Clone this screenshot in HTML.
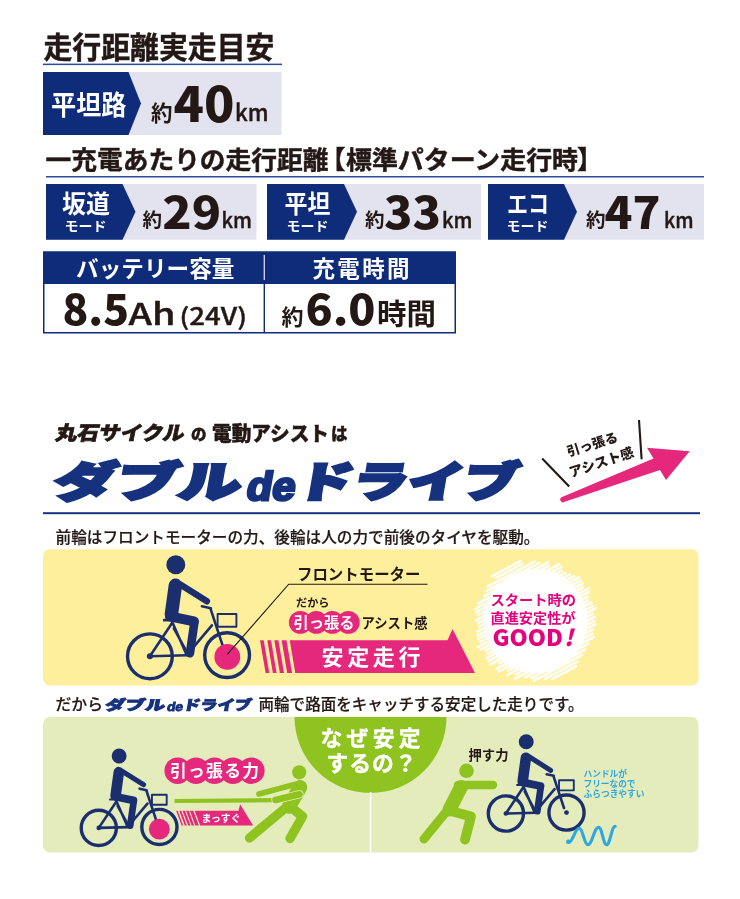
<!DOCTYPE html>
<html lang="ja">
<head>
<meta charset="utf-8">
<title>走行距離実走目安</title>
<style>
html,body{margin:0;padding:0;background:#fff;}
body{width:740px;height:899px;overflow:hidden;}
svg{display:block;}
text{font-family:"Liberation Sans","Noto Sans CJK JP",sans-serif;fill:#231815;}
.jp{font-family:"Noto Sans CJK JP","Liberation Sans",sans-serif;}
.b{font-weight:700;}
.t{stroke:#231815;stroke-width:0.45px;}
.m{font-weight:500;}
.k{font-weight:900;}
.w{fill:#fff;}
.km{stroke:#231815;stroke-width:0.4px;}
.cp{stroke:#231815;stroke-width:0.2px;}
.navy{fill:#0f2c7a;}
.pk{fill:#e5287c;}
</style>
</head>
<body>
<svg width="740" height="899" viewBox="0 0 740 899">
<defs>
  <!-- bicycle with rider; origin = rear hub, drawn at bike-1 scale -->
  <g id="bike">
    <g fill="none" stroke="#1b2f6e" stroke-linecap="round" stroke-linejoin="round">
      <circle cx="0" cy="0" r="22.400" stroke-width="3.400" vector-effect="non-scaling-stroke"/>
      <circle cx="77.200" cy="-1.200" r="22.400" stroke-width="3.400" vector-effect="non-scaling-stroke"/>
      <path d="M0 0 L38 -1 M0 0 L22 -33 M22 -35 L36 -3 M40 -5 L62 -31 M24 -28 L36 -6 M60.5 -48 L74 -7 M52 -50 L61 -48" stroke-width="2.600" vector-effect="non-scaling-stroke"/>
      <rect x="67.700" y="-42.300" width="18.800" height="12.800" stroke-width="1.900" vector-effect="non-scaling-stroke"/>
    </g>
    <g fill="#1b2f6e">
      <circle cx="0" cy="0" r="3"/><circle cx="77.200" cy="-1.200" r="3"/>
      <circle cx="25.9" cy="-91.5" r="9.5"/>
      <rect x="13" y="-37.5" width="9" height="2.6" rx="1"/>
    </g>
    <g fill="none" stroke="#1b2f6e" stroke-linecap="round" stroke-linejoin="round">
      <path d="M25.5 -71 L21.5 -42" stroke-width="13.5"/>
      <path d="M30 -72 L57 -55" stroke-width="6.4"/>
      <path d="M20 -40 L44 -35" stroke-width="10"/>
      <path d="M44.5 -34 L40 -3" stroke-width="8.6"/>
    </g>
  </g>
</defs>

<rect x="0" y="0" width="740" height="899" fill="#fff"/>

<!-- ================= section 1 ================= -->
<text class="jp b t" x="43.5" y="57.8" font-size="29.6" textLength="231" lengthAdjust="spacingAndGlyphs">走行距離実走目安</text>
<rect x="43" y="63.6" width="239" height="1.5" fill="#2a4b9b"/>

<rect x="43" y="72" width="238.500" height="63" fill="#e3e3ef"/>
<path class="navy" d="M43 72H128.500L141 103.500L128.500 135H43Z"/>
<text class="jp b w" x="51" y="114.500" font-size="27.500" textLength="75.500" lengthAdjust="spacingAndGlyphs">平坦路</text>
<text class="jp b" x="151" y="121" font-size="21.5">約</text>
<text class="jp k" x="173.500" y="121.500" font-size="48" textLength="61" lengthAdjust="spacingAndGlyphs">40</text>
<text class="jp m km" x="235" y="121" font-size="23" textLength="33.500" lengthAdjust="spacingAndGlyphs">km</text>

<text class="jp b t" font-size="25.500" y="169"><tspan x="45.500" textLength="283" lengthAdjust="spacingAndGlyphs">一充電あたりの走行距離</tspan></text>
<text class="jp b t" font-size="25.500" y="169" x="320">【</text>
<text class="jp b t" font-size="25.500" y="169"><tspan x="346" textLength="232" lengthAdjust="spacingAndGlyphs">標準パターン走行時</tspan></text>
<text class="jp b t" font-size="25.500" y="169" x="577">】</text>
<rect x="46" y="176" width="658" height="1.500" fill="#2a4b9b"/>

<!-- three mode boxes -->
<g>
  <rect x="46" y="184" width="210.5" height="55.700" fill="#e3e3ef"/>
  <path class="navy" d="M46 184H122.5L135.5 211.850L122.5 239.700H46Z"/>
  <text class="jp b w" x="62" y="213" font-size="24.500" textLength="48" lengthAdjust="spacingAndGlyphs">坂道</text>
  <text class="jp b w" x="64.5" y="230.600" font-size="13.200" textLength="42" lengthAdjust="spacingAndGlyphs">モード</text>
  <text class="jp b" x="142.5" y="227.300" font-size="19.500">約</text>
  <text class="jp k" x="162.200" y="228.500" font-size="44" textLength="59" lengthAdjust="spacingAndGlyphs">29</text>
  <text class="jp m km" x="221.5" y="227.500" font-size="20.500" textLength="30.5" lengthAdjust="spacingAndGlyphs">km</text>
</g>
<g>
  <rect x="267" y="184" width="214" height="55.700" fill="#e3e3ef"/>
  <path class="navy" d="M267 184H344L357 211.850L344 239.700H267Z"/>
  <text class="jp b w" x="284.5" y="213" font-size="24.500" textLength="46" lengthAdjust="spacingAndGlyphs">平坦</text>
  <text class="jp b w" x="286.5" y="230.600" font-size="13.200" textLength="42" lengthAdjust="spacingAndGlyphs">モード</text>
  <text class="jp b" x="365" y="227.300" font-size="19.500">約</text>
  <text class="jp k" x="384" y="228.500" font-size="44" textLength="57" lengthAdjust="spacingAndGlyphs">33</text>
  <text class="jp m km" x="442" y="227.500" font-size="20.500" textLength="30.5" lengthAdjust="spacingAndGlyphs">km</text>
</g>
<g>
  <rect x="488" y="184" width="216" height="55.700" fill="#e3e3ef"/>
  <path class="navy" d="M488 184H564L577 211.850L564 239.700H488Z"/>
  <text class="jp b w" x="507" y="213" font-size="24.500" textLength="42" lengthAdjust="spacingAndGlyphs">エコ</text>
  <text class="jp b w" x="506.5" y="230.600" font-size="13.200" textLength="42" lengthAdjust="spacingAndGlyphs">モード</text>
  <text class="jp b" x="586" y="227.300" font-size="19.500">約</text>
  <text class="jp k" x="604.5" y="228.500" font-size="44" textLength="56" lengthAdjust="spacingAndGlyphs">47</text>
  <text class="jp m km" x="664" y="227.500" font-size="20.500" textLength="29.5" lengthAdjust="spacingAndGlyphs">km</text>
</g>

<!-- battery table -->
<rect x="43.750" y="252.250" width="411.500" height="80.500" fill="#fff" stroke="#0f2c7a" stroke-width="1.5"/>
<rect x="43" y="251.500" width="413" height="32.500" class="navy"/>
<rect x="263.600" y="255" width="1.400" height="25" fill="#c9cfe6"/>
<rect x="263.600" y="284" width="1.400" height="49" class="navy"/>
<text class="jp b w" x="76" y="276.500" font-size="22.500" textLength="158.500" lengthAdjust="spacingAndGlyphs">バッテリー容量</text>
<text class="jp b w" x="312.500" y="276.500" font-size="22.500" textLength="97" lengthAdjust="spacing">充電時間</text>
<text class="jp k" x="62.500" y="324.500" font-size="42" textLength="66.500" lengthAdjust="spacingAndGlyphs">8.5</text>
<text class="jp m km" x="128.500" y="324.500" font-size="30" textLength="47" lengthAdjust="spacingAndGlyphs">Ah</text>
<text class="jp m km" x="179.500" y="325" font-size="23.500" textLength="67.500" lengthAdjust="spacingAndGlyphs">(24V)</text>
<text class="jp b" x="281.500" y="324.500" font-size="22">約</text>
<text class="jp k" x="305.500" y="324.500" font-size="42" textLength="70" lengthAdjust="spacingAndGlyphs">6.0</text>
<text class="jp b" x="377" y="325" font-size="29" textLength="59" lengthAdjust="spacingAndGlyphs">時間</text>

<!-- ================= section 2 header ================= -->
<g transform="translate(54.500 439.500) skewX(-12)">
  <text class="jp k" x="0" y="0" font-size="19.500" textLength="129" lengthAdjust="spacingAndGlyphs" stroke="#231815" stroke-width="0.700">丸石サイクル</text>
</g>
<text class="jp k t" x="191" y="440.300" font-size="15.500">の</text>
<text class="jp k t" x="212" y="440.800" font-size="20" textLength="117" lengthAdjust="spacingAndGlyphs">電動アシスト</text>
<text class="jp k t" x="331" y="440" font-size="16.500">は</text>

<g transform="translate(0 497.500) skewX(-10)" style="fill:#16327f;stroke:#16327f;stroke-linejoin:miter">
  <text class="jp k" style="fill:#16327f" x="52" y="-0.500" font-size="42" textLength="187" lengthAdjust="spacingAndGlyphs" stroke-width="3">ダブル</text>
  <text class="b" style="fill:#16327f;font-family:'Liberation Sans',sans-serif" x="245.500" y="2.300" font-size="40" textLength="48.500" lengthAdjust="spacingAndGlyphs" stroke-width="2.800">de</text>
  <text class="jp k" style="fill:#16327f" x="295.500" y="-0.500" font-size="42" textLength="221" lengthAdjust="spacingAndGlyphs" stroke-width="3">ドライブ</text>
</g>
<rect x="43" y="512.200" width="657" height="2" fill="#16327f"/>

<!-- arrow top right -->
<path class="pk" d="M561.500 497.200A2.600 2.600 0 0 0 564.600 501.800L660 470L666 480L689.700 451.200L647 447.700L653.500 458.500Z"/>
<path d="M542.200 458.500L569.200 486.400M639 420L641.600 459.300" stroke="#231815" stroke-width="2.100" fill="none"/>
<g transform="translate(568.500 456.500) rotate(-17)">
  <text class="jp k" x="0" y="0" font-size="13" textLength="52.500" lengthAdjust="spacingAndGlyphs">引っ張る</text>
</g>
<g transform="translate(571 477.500) rotate(-18.500)">
  <text class="jp k" x="0" y="0" font-size="13.500" textLength="67.500" lengthAdjust="spacingAndGlyphs">アシスト感</text>
</g>

<text class="jp m cp" x="55.500" y="543.300" font-size="15.800" textLength="484" lengthAdjust="spacingAndGlyphs">前輪はフロントモーターの力、後輪は人の力で前後のタイヤを駆動。</text>

<!-- ================= yellow panel ================= -->
<rect x="43" y="549.300" width="655.500" height="136.200" rx="7" fill="#feef9c"/>
<use href="#bike" x="149.900" y="656.300"/>
<circle class="pk" cx="227.300" cy="656.900" r="12.900"/>
<path d="M227.300 654.400L288.700 584.200H427.500" stroke="#231815" stroke-width="1.100" fill="none"/>
<text class="jp b" x="297" y="579.500" font-size="15.500" textLength="123.500" lengthAdjust="spacingAndGlyphs">フロントモーター</text>
<text class="jp b" x="296" y="606.800" font-size="11" textLength="33.500" lengthAdjust="spacingAndGlyphs">だから</text>
<g class="pk">
  <circle cx="300.300" cy="622.400" r="11.400"/><circle cx="316.300" cy="622.400" r="11.400"/><circle cx="332.300" cy="622.400" r="11.400"/><circle cx="348.300" cy="622.400" r="11.400"/>
</g>
<text class="jp b w" x="293.500" y="628" font-size="15" textLength="61" lengthAdjust="spacingAndGlyphs">引っ張る</text>
<text class="jp b" x="361.500" y="627.800" font-size="14" textLength="66" lengthAdjust="spacingAndGlyphs">アシスト感</text>
<g class="pk">
  <path d="M260 640.300H263.700L269.300 673H265.600Z"/>
  <path d="M267.300 640.300H271L276.600 673H272.900Z"/>
  <path d="M274.300 640.300H278.400L284 673H279.900Z"/>
  <path d="M281.600 640.300H286.500L292.100 673H287.200Z"/>
  <path d="M289.700 640.300H447.500L452.500 629L475 673H295.300Z"/>
</g>
<text class="jp b w" x="321.500" y="664.800" font-size="22" textLength="99" lengthAdjust="spacing">安定走行</text>

<!-- scribble circle -->
<g id="scribble"><circle cx="535.5" cy="621.0" r="52.0" fill="#fff"/><path d="M491.8 576.3L520.4 561.1M496.0 578.0L522.4 564.0M487.7 586.4L534.6 561.5M486.8 590.9L539.1 563.0M483.9 596.3L548.3 562.1M478.2 603.3L548.9 565.7M475.0 609.0L559.3 564.2M476.1 612.4L561.4 567.0M478.6 615.0L561.5 570.9M476.0 620.3L565.3 572.9M478.1 623.2L569.7 574.5M479.4 626.5L574.1 576.1M477.4 631.5L579.2 577.4M477.7 635.3L580.5 580.7M478.7 638.7L582.9 583.3M480.1 641.9L582.7 587.4M478.1 647.0L589.1 588.0M480.6 649.6L589.1 591.9M485.6 650.9L587.7 596.6M487.6 653.8L588.1 600.4M486.8 658.2L591.3 602.6M488.6 661.2L592.3 606.1M490.4 664.3L595.9 608.1M499.0 663.6L592.6 613.9M496.3 669.0L594.5 616.8M499.0 671.5L594.2 620.9M508.1 670.7L595.5 624.2M507.5 675.0L592.8 629.6M515.9 674.5L592.3 633.8M515.0 678.9L593.7 637.1M525.4 677.4L588.7 643.7M531.3 678.1L585.0 649.6M534.1 680.7L581.9 655.2M545.0 678.8L577.4 661.6M552.0 679.1L576.0 666.3" stroke="#fff" stroke-width="2.5" stroke-linecap="round" fill="none"/></g>
<text class="jp b" style="fill:#e4007f" x="490.500" y="605" font-size="14.200" textLength="85.500" lengthAdjust="spacingAndGlyphs">スタート時の</text>
<text class="jp b" style="fill:#e4007f" x="490.500" y="622.700" font-size="14.200" textLength="85" lengthAdjust="spacingAndGlyphs">直進安定性が</text>
<text class="jp k" style="fill:#e4007f" x="492.500" y="645.500" font-size="23" textLength="70.500" lengthAdjust="spacingAndGlyphs">GOOD</text>
<g transform="translate(564 645.500) skewX(-14)"><text class="jp k" style="fill:#e4007f" x="0" y="0" font-size="23">!</text></g>

<!-- ================= caption 2 ================= -->
<text class="jp m cp" x="55.500" y="710" font-size="15.800" textLength="47.500" lengthAdjust="spacingAndGlyphs">だから</text>
<g transform="translate(0 710.300) skewX(-10)" style="stroke:#16327f;stroke-linejoin:miter">
  <text class="jp k" style="fill:#16327f" x="104.500" y="0" font-size="13.800" textLength="60" lengthAdjust="spacingAndGlyphs" stroke-width="0.900">ダブル</text>
  <text class="b" style="fill:#16327f;font-family:'Liberation Sans',sans-serif" x="166.500" y="0.300" font-size="12.500" textLength="16" lengthAdjust="spacingAndGlyphs" stroke-width="0.900">de</text>
  <text class="jp k" style="fill:#16327f" x="182.500" y="0" font-size="13.800" textLength="68.500" lengthAdjust="spacingAndGlyphs" stroke-width="0.900">ドライブ</text>
</g>
<text class="jp m cp" x="258.500" y="710" font-size="15.800" textLength="325" lengthAdjust="spacingAndGlyphs">両輪で路面をキャッチする安定した走りです。</text>

<!-- ================= green panel ================= -->
<rect x="43" y="717" width="655.500" height="135.500" rx="7" fill="#e4ecbc"/>
<path d="M294.500 717H446.500A76 76 0 0 1 294.500 717Z" fill="#8fc31f"/>
<rect x="369.800" y="792" width="1.500" height="60.500" fill="#fff"/>
<text class="jp b w" x="320.500" y="746.300" font-size="21.800" textLength="100" lengthAdjust="spacing" stroke="#fff" stroke-width="0.400">なぜ安定</text>
<text class="jp b w" x="326.500" y="771.200" font-size="21.800" textLength="90" lengthAdjust="spacing" stroke="#fff" stroke-width="0.400">するの？</text>

<!-- left: pulling -->
<use href="#bike" transform="translate(98.800 827.900) scale(0.785)"/>
<circle class="pk" cx="159.300" cy="829.200" r="10.400"/>
<g class="pk">
  <circle cx="177.600" cy="770.700" r="13.200"/><circle cx="196.050" cy="770.700" r="13.200"/><circle cx="214.500" cy="770.700" r="13.200"/><circle cx="232.950" cy="770.700" r="13.200"/><circle cx="251.400" cy="770.700" r="13.200"/>
</g>
<text class="jp b w" x="170" y="776.500" font-size="16.800" textLength="89" lengthAdjust="spacing">引っ張る力</text>
<path d="M174.500 801L275 800.200" stroke="#8fc31f" stroke-width="4.200" fill="none"/>
<g class="pk">
  <path d="M176.1 810.8H177.7L183.2 825.4H181.6Z"/>
  <path d="M179.3 810.8H181.3L186.8 825.4H184.8Z"/>
  <path d="M182.6 810.8H185.0L190.5 825.4H188.1Z"/>
  <path d="M186.1 810.8H188.7L194.2 825.4H191.6Z"/>
  <path d="M189.9 810.8H193.3L198.8 825.4H195.4Z"/>
  <path d="M194.700 810.8H238.500L240.100 804.300L253.100 825.4H200.2Z"/>
</g>
<text class="jp b w" x="201.500" y="822.300" font-size="10.500" textLength="39" lengthAdjust="spacingAndGlyphs">まっすぐ</text>
<!-- pulling person -->
<g fill="none" stroke="#8fc31f" stroke-linecap="round" stroke-linejoin="round">
  <path d="M300 787.300L289 806.500" stroke-width="14.500"/>
  <path d="M294.500 784.500L259 794" stroke-width="5.800"/>
  <path d="M286 807.500L249.500 838" stroke-width="9.400"/>
  <path d="M290 806.500L302.500 816.500L290 838.500" stroke-width="9.400"/>
</g>
<path d="M299.500 794.300L275.500 800" stroke="#e4ecbc" stroke-width="8.200" stroke-linecap="round" fill="none"/>
<path d="M299.500 794.300L275.500 800" stroke="#8fc31f" stroke-width="6.600" stroke-linecap="round" fill="none"/>
<circle cx="299.200" cy="772.300" r="7.100" fill="#8fc31f"/>

<!-- right: pushing -->
<text class="jp b" x="468.500" y="760" font-size="14" textLength="40" lengthAdjust="spacingAndGlyphs">押す力</text>
<g fill="none" stroke="#8fc31f" stroke-linecap="round" stroke-linejoin="round">
  <path d="M461 787L449.500 809.500" stroke-width="13.800"/>
  <path d="M458 785H493" stroke-width="8.400"/>
  <path d="M449 810.500L471 816.500L465 839.500" stroke-width="9.800"/>
  <path d="M446 812L424 839" stroke-width="9"/>
</g>
<circle cx="466.500" cy="770.800" r="7.300" fill="#8fc31f"/>
<use href="#bike" transform="translate(505.900 813.500) scale(0.785)"/>
<text class="jp b" style="fill:#2ea7e0" x="583.500" y="777" font-size="8.800" textLength="43.500" lengthAdjust="spacingAndGlyphs">ハンドルが</text>
<text class="jp b" style="fill:#2ea7e0" x="583.500" y="787" font-size="8.800" textLength="52" lengthAdjust="spacingAndGlyphs">フリーなので</text>
<text class="jp b" style="fill:#2ea7e0" x="583.500" y="797" font-size="8.800" textLength="61" lengthAdjust="spacingAndGlyphs">ふらつきやすい</text>
<path d="M568.6 842.3C573.1 842.3 574.7 828.3 579.2 828.3C582.8 828.3 584.2 844.7 587.8 844.7C592.3 844.7 594.1 827.2 598.6 827.2C602.0 827.2 603.2 844.7 606.6 844.7C610.2 844.7 611.6 826.2 615.2 826.2" stroke="#2ea7e0" stroke-width="3.100" fill="none" stroke-linecap="round"/><circle cx="568.300" cy="841.800" r="2.300" fill="#2ea7e0"/>
</svg>
</body>
</html>
